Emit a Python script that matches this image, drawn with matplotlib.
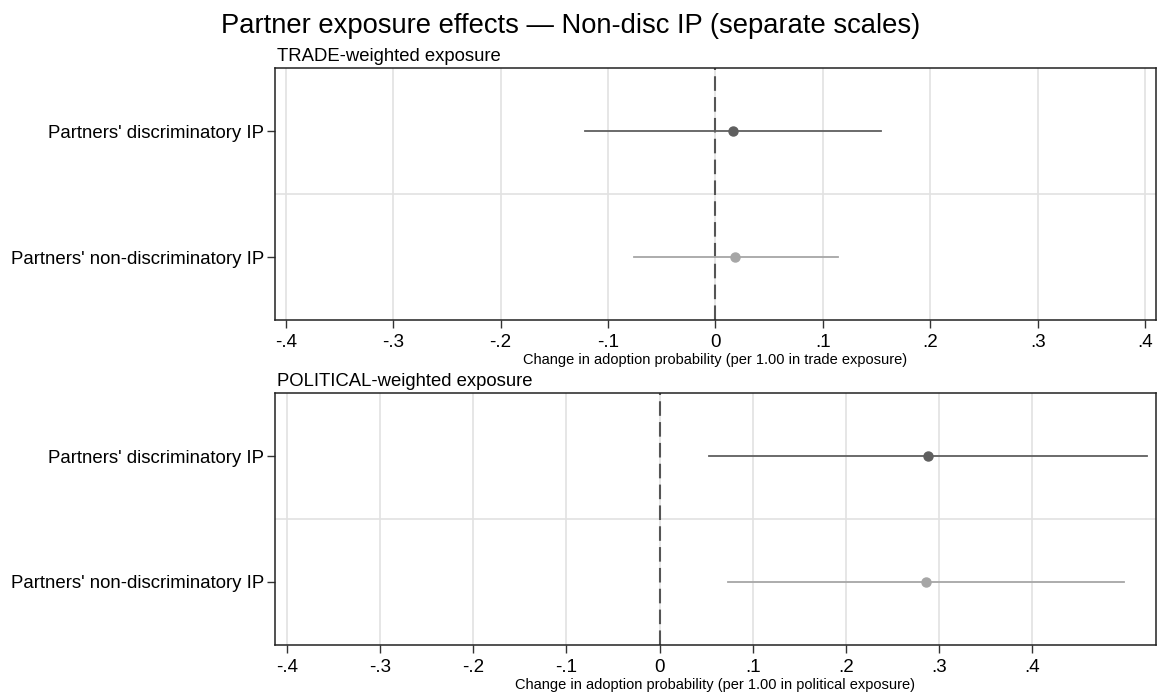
import numpy as np
import matplotlib
matplotlib.use("Agg")
import matplotlib.pyplot as plt

plt.rcParams['font.family'] = ['Liberation Sans', 'DejaVu Sans']

# estimates
labels = ["Partners' discriminatory IP", "Partners' non-discriminatory IP"]

trade_est = [0.016, 0.0186]
trade_lo = [-0.121, -0.0758]
trade_hi = [0.154, 0.1137]

pol_est = [0.288, 0.286]
pol_lo = [0.0534, 0.074]
pol_hi = [0.524, 0.499]

ticks = [-0.4, -0.3, -0.2, -0.1, 0, 0.1, 0.2, 0.3, 0.4]
tick_labels = ["-.4", "-.3", "-.2", "-.1", "0", ".1", ".2", ".3", ".4"]

colors = ["#5f5f5f", "#a6a6a6"]


def coef_panel(ax, est, lo, hi, xlim, subtitle, xlabel):
    ys = np.arange(1, len(est) + 1)
    for t in ticks:
        ax.axvline(t, color="#e2e2e2", lw=1.2, zorder=0)
    ax.axhline(1.5, color="#e2e2e2", lw=1.2, zorder=0)
    ax.axvline(0, color="#555555", lw=1.5, ls=(0, (7, 3)), zorder=1)
    for i in range(len(est)):
        ax.plot([lo[i], hi[i]], [ys[i], ys[i]], color=colors[i], lw=1.3, zorder=2)
        ax.plot(est[i], ys[i], 'o', color=colors[i], ms=6.5, zorder=3)
    ax.set_xlim(xlim)
    ax.set_ylim(2.5, 0.5)
    ax.set_yticks(ys)
    ax.set_yticklabels(labels, fontsize=13.4)
    ax.set_xticks(ticks)
    ax.set_xticklabels(tick_labels, fontsize=13.5)
    ax.tick_params(axis='both', direction='out', length=6, width=1, color="#333333")
    ax.tick_params(axis='x', pad=4)
    ax.tick_params(axis='y', pad=2)
    for s in ax.spines.values():
        s.set_color("#222222")
        s.set_linewidth(1.1)
    ax.set_xlabel(xlabel, fontsize=10.5, labelpad=1.5)
    ax.text(0.002, 1.012, subtitle, transform=ax.transAxes, fontsize=13.3,
            ha='left', va='bottom')


fig = plt.figure(figsize=(11.57, 6.96), dpi=100)
ax1 = fig.add_axes([0.2377, 0.540, 0.7613, 0.3623])
ax2 = fig.add_axes([0.2377, 0.0733, 0.7613, 0.362])

coef_panel(ax1, trade_est, trade_lo, trade_hi, (-0.41, 0.41),
           "TRADE-weighted exposure",
           "Change in adoption probability (per 1.00 in trade exposure)")
coef_panel(ax2, pol_est, pol_lo, pol_hi, (-0.413, 0.533),
           "POLITICAL-weighted exposure",
           "Change in adoption probability (per 1.00 in political exposure)")

fig.text(0.493, 0.982, "Partner exposure effects \u2014 Non-disc IP (separate scales)",
         ha='center', va='top', fontsize=19.7)

fig.savefig("out.png", dpi=100)
